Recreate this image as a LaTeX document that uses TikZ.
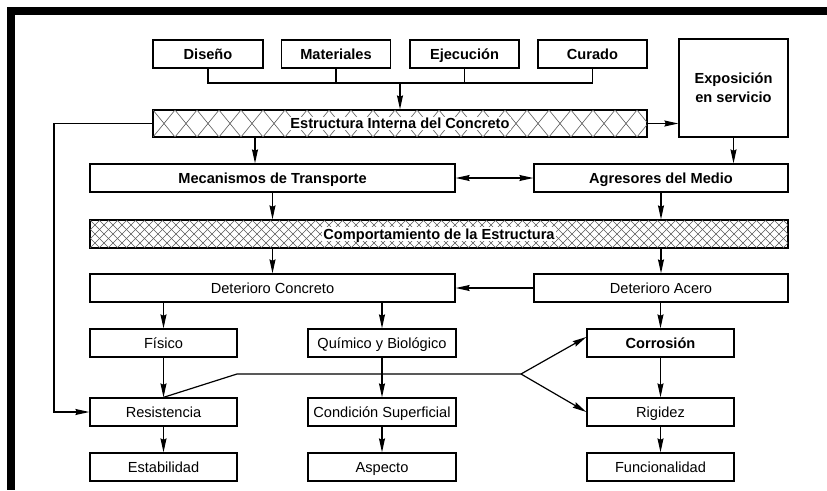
\documentclass[tikz,border=0pt]{standalone}
\usepackage{fontspec}
\setmainfont{Liberation Sans}
\usetikzlibrary{arrows.meta}
\begin{document}
\begin{tikzpicture}[x=1pt,y=-1pt,
  base/.style={draw, line width=1.3pt, inner sep=0pt, minimum height=28pt, align=center},
  box/.style={base, text height=10.5pt, text depth=0pt, font=\fontsize{14.6}{17.5}\selectfont},
  bbox/.style={box, font=\fontsize{14.6}{17.5}\selectfont\bfseries},
  hbox/.style={draw, line width=1.3pt, inner sep=0pt},
  htext/.style={fill=white, inner sep=1.5pt, font=\fontsize{14.6}{17.5}\selectfont\bfseries},
  hatch/.style={line width=0.6pt, black!65},
  conn/.style={line width=1.2pt},
  arr/.style={conn, -{Stealth[length=14pt,width=6pt,inset=1.5pt]}},
  darr/.style={conn, {Stealth[length=14pt,width=6pt,inset=1.5pt]}-{Stealth[length=14pt,width=6pt,inset=1.5pt]}}
]
\useasboundingbox (0,0) rectangle (827,490);
\fill[white] (0,0) rectangle (827,490);
% frame
\fill[black] (7,7) rectangle (827,15);
\fill[black] (7,7) rectangle (15,490);

% top row
\node[bbox, minimum width=110pt] (dis) at (208,54) {Diseño};
\node[bbox, minimum width=109pt] (mat) at (336,54) {Materiales};
\node[bbox, minimum width=109pt] (eje) at (464.5,54) {Ejecución};
\node[bbox, minimum width=109pt] (cur) at (592.5,54) {Curado};
\node[base, minimum width=109pt, minimum height=98pt, font=\fontsize{14.6}{19}\selectfont\bfseries] (exp) at (733.5,88) {Exposición\\en servicio};

% Estructura interna (hatched)
\node[hbox, minimum width=494pt, minimum height=27pt] (est) at (400,123.5) {};
\begin{scope}
  \clip (est.south west) rectangle (est.north east);
  \foreach \k in {-1,...,23} {
    \draw[hatch] (153+\k*22,110) -- (175+\k*22,137);
    \draw[hatch] (175+\k*22,110) -- (153+\k*22,137);
  }
\end{scope}
\draw[line width=1.3pt] (est.south west) rectangle (est.north east);
\node[htext, text height=10.5pt, text depth=0pt] (estT) at (est.center) {Estructura Interna del Concreto};

% second level
\node[bbox, minimum width=365pt] (mec) at (272.5,178) {Mecanismos de Transporte};
\node[bbox, minimum width=254pt] (agr) at (661,178) {Agresores del Medio};

% Comportamiento (hatched)
\node[hbox, minimum width=698pt, minimum height=28pt] (com) at (439,234) {};
\begin{scope}
  \clip (com.south west) rectangle (com.north east);
  \foreach \k in {-4,...,80} {
    \draw[hatch, line width=0.5pt] (90+\k*9,220) -- (118+\k*9,248);
    \draw[hatch, line width=0.5pt] (118+\k*9,220) -- (90+\k*9,248);
  }
\end{scope}
\draw[line width=1.3pt] (com.south west) rectangle (com.north east);
\node[htext, text height=10.5pt, text depth=0pt] (comT) at (com.center) {Comportamiento de la Estructura};

% deterioro
\node[box, minimum width=365pt] (dc) at (272.5,288) {Deterioro Concreto};
\node[box, minimum width=254pt] (da) at (661,288) {Deterioro Acero};

% lower rows
\node[box, minimum width=147pt] (fis) at (163.5,343) {Físico};
\node[box, minimum width=148pt] (qui) at (382,343) {Químico y Biológico};
\node[bbox, minimum width=147pt] (cor) at (660.5,343) {Corrosión};

\node[box, minimum width=147pt] (res) at (163.5,412) {Resistencia};
\node[box, minimum width=148pt] (cond) at (382,412) {Condición Superficial};
\node[box, minimum width=147pt] (rig) at (660.5,412) {Rigidez};

\node[box, minimum width=147pt] (estab) at (163.5,467) {Estabilidad};
\node[box, minimum width=148pt] (asp) at (382,467) {Aspecto};
\node[box, minimum width=147pt] (fun) at (660.5,467) {Funcionalidad};

% coordinates
\coordinate (j) at (400,83);
\coordinate (xa) at (255,0);
\coordinate (xl) at (54,0);
\coordinate (k1) at (237,374);
\coordinate (k2) at (521,374);

% connectors: top row to estructura
\draw[conn] (dis.south) |- (j) -| (cur.south);
\draw[conn] (mat.south) -- (mat.south |- j);
\draw[conn] (eje.south) -- (eje.south |- j);
\draw[arr] (j) -- (j |- est.north);

\draw[arr] (est.east) -- (est.east -| exp.west);
\draw[arr] (est.south -| xa) -- (mec.north -| xa);
\draw[arr] (exp.south) -- (exp.south |- agr.north);
\draw[darr] (mec.east) -- (agr.west);

\draw[arr] (mec.south) -- (mec.south |- com.north);
\draw[arr] (agr.south) -- (agr.south |- com.north);
\draw[arr] (com.south -| dc.north) -- (dc.north);
\draw[arr] (com.south -| da.north) -- (da.north);
\draw[arr] (da.west) -- (dc.east);

\draw[arr] (dc.south -| fis.north) -- (fis.north);
\draw[arr] (dc.south -| qui.north) -- (qui.north);
\draw[arr] (da.south -| cor.north) -- (cor.north);

\draw[arr] (fis.south) -- (res.north);
\draw[arr] (qui.south) -- (cond.north);
\draw[arr] (cor.south) -- (rig.north);
\draw[arr] (res.south) -- (estab.north);
\draw[arr] (cond.south) -- (asp.north);
\draw[arr] (rig.south) -- (fun.north);

% left loop
\draw[arr] (est.west) -- (est.west -| xl) |- (res.west);

% branching line
\draw[conn] (res.north) -- (k1) -- (k2);
\draw[arr] (k2) -- ([yshift=6pt]cor.west);
\draw[arr] (k2) -- (rig.west);
\end{tikzpicture}
\end{document}
